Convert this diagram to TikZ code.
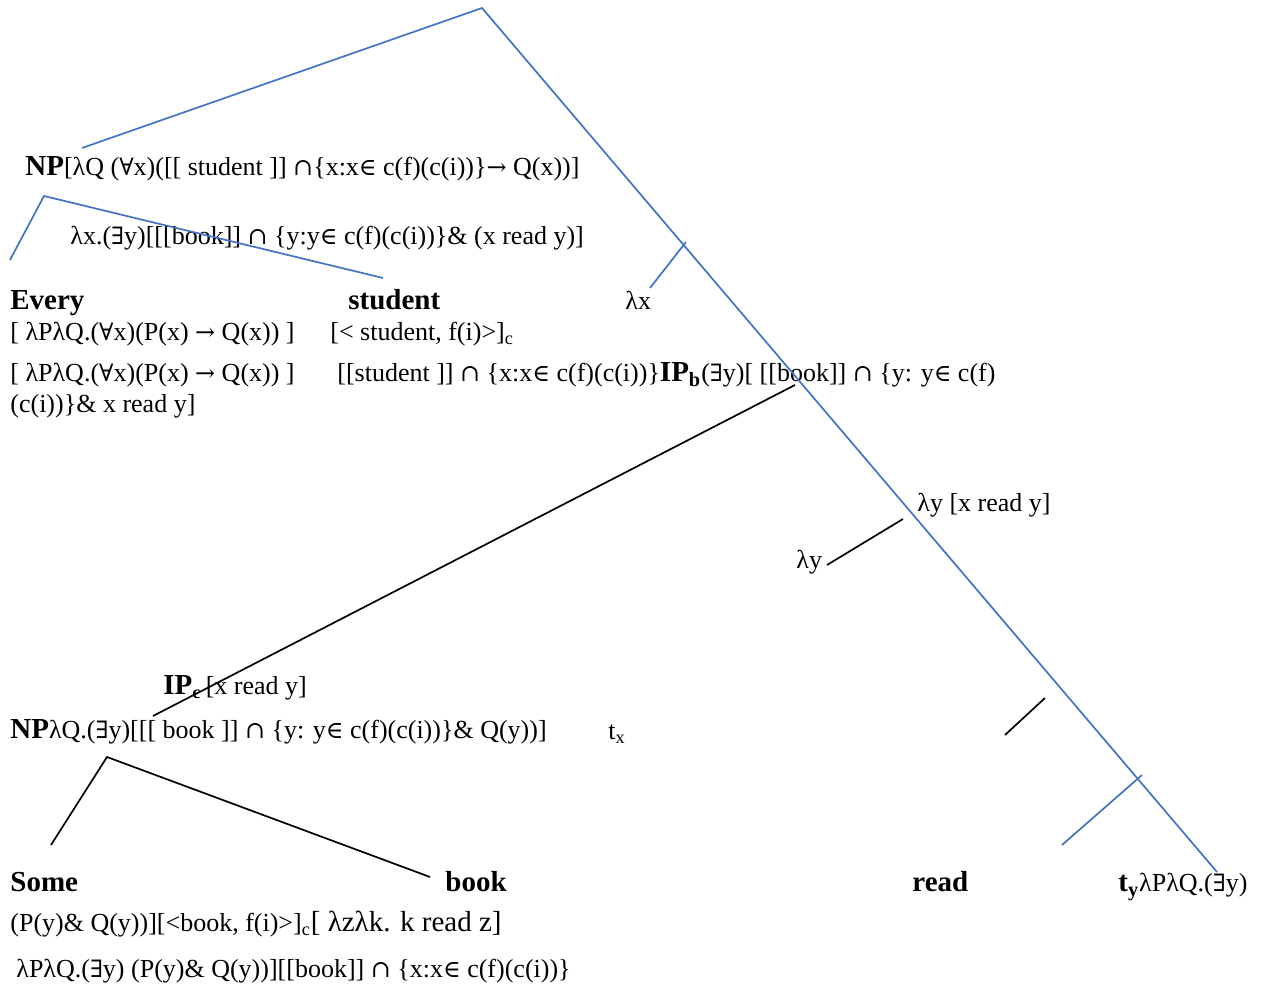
\documentclass[tikz,border=0pt]{standalone}
\usepackage{fontspec}
\setmainfont{Liberation Serif}
\newfontfamily\symfont[Scale=0.92]{DejaVu Serif}
\usepackage{xcolor}
\usepackage{tikz}
\definecolor{treeblue}{HTML}{4472C4}
\newcommand{\allq}{{\symfont ∀}}
\newcommand{\exq}{{\symfont ∃}}
\newcommand{\memb}{{\symfont ∈}}
\newcommand{\isect}{{\symfont ∩}}
\newcommand{\rarr}{{\symfont →}}
\newcommand{\catb}[1]{{\fontsize{14.5pt}{17pt}\selectfont\bfseries #1}}

\begin{document}
\begin{tikzpicture}[
  x=0.5pt,y=-0.5pt,
  sem/.style={anchor=base west,inner sep=0pt,font=\fontsize{13pt}{15pt}\selectfont},
  word/.style={anchor=base west,inner sep=0pt,font=\fontsize{14.5pt}{17pt}\selectfont\bfseries},
  bl/.style={draw=treeblue,line width=0.85pt},
  bk/.style={draw=black,line width=0.85pt}
]
\useasboundingbox (0,0) rectangle (1265,988);

%------ subject NP -----------------------------------------------------------
\node[sem] (npsubj) at (25,176) {\catb{NP}[λQ (\allq x)([[ student ]] \isect\{x:x\memb{} c(f)(c(i))\}\rarr{} Q(x))]};
\node[sem] (vpx)    at (70,245) {λx.(\exq y)[[[book]] \isect{} \{y:y\memb{} c(f)(c(i))\}\& (x read y)]};
\node[word] (every) at (10,310) {Every};
\node[word] (stud)  at (348,310) {student};
\node[sem] (lamx)   at (625,310) {λx};
\node[sem] (detA)   at (10,341) {[ λPλQ.(\allq x)(P(x) \rarr{} Q(x)) ]};
\node[sem] (studA)  at (330,341) {[< student, f(i)>]\textsubscript{c}};
\node[sem] (detB)   at (10,382) {[ λPλQ.(\allq x)(P(x) \rarr{} Q(x)) ]};
\node[sem] (studB)  at (337,382) {[[student ]] \isect{} \{x:x\memb{} c(f)(c(i))\}\catb{IP\textsubscript{b}}(\exq y)[ [[book]] \isect{} \{y: y\memb{} c(f)};
\node[sem] (studC)  at (10,413) {(c(i))\}\& x read y]};

%------ object NP and the lambda y ---------------------------------------------
\node[sem] (lamyv)  at (917,512) {λy [x read y]};
\node[sem] (lamy)   at (796,569) {λy};
\node[sem] (ipc)    at (163,695) {\catb{IP}\textsubscript{\bfseries c}\,[x read y]};
\node[sem] (npobj)  at (10,739) {\catb{NP}λQ.(\exq y)[[[ book ]] \isect{} \{y: y\memb{} c(f)(c(i))\}\& Q(y))]};
\node[sem] (tx)     at (608,740) {t\textsubscript{x}};

%------ leaves -------------------------------------------------------------------
\node[word] (some)  at (10,892) {Some};
\node[word] (book)  at (445,892) {book};
\node[word] (read)  at (912,892) {read};
\node[sem] (ty)     at (1118,892) {\catb{t\textsubscript{y}}λPλQ.(\exq y)};
\node[sem] (someA)  at (10,932) {(P(y)\& Q(y))][<book, f(i)>]\textsubscript{c}{\fontsize{14.5pt}{17pt}\selectfont[ λzλk. k read z]}};
\node[sem] (someB)  at (16,978) {λPλQ.(\exq y) (P(y)\& Q(y))][[book]] \isect{} \{x:x\memb{} c(f)(c(i))\}};

%------ tree joints --------------------------------------------------------------
\coordinate (root)  at (482,8);
\coordinate (npa)   at (82,148);
\coordinate (rbot)  at (1217,872);
\coordinate (xa)    at (686,242);
\coordinate (xb)    at (650,288);
\coordinate (npb)   at (44,196);
\coordinate (eva)   at (10,260);
\coordinate (sta)   at (383,278);
\coordinate (ipb)   at (795,385);
\coordinate (ipcj)  at (153,716);
\coordinate (ya)    at (903,519);
\coordinate (yb)    at (827,565);
\coordinate (va)    at (1045,698);
\coordinate (vb)    at (1005,735);
\coordinate (ra)    at (1142,775);
\coordinate (rb)    at (1062,845);
\coordinate (npc)   at (107,757);
\coordinate (soa)   at (51,845);
\coordinate (boa)   at (430,877);

%------ blue branches ------------------------------------------------------------
\draw[bl] (npa) -- (root) -- (rbot);
\draw[bl] (xb) -- (xa);
\draw[bl] (eva) -- (npb) -- (sta);
\draw[bl] (rb) -- (ra);

%------ black branches -----------------------------------------------------------
\draw[bk] (ipcj) -- (ipb);
\draw[bk] (yb) -- (ya);
\draw[bk] (vb) -- (va);
\draw[bk] (soa) -- (npc) -- (boa);
\end{tikzpicture}
\end{document}
